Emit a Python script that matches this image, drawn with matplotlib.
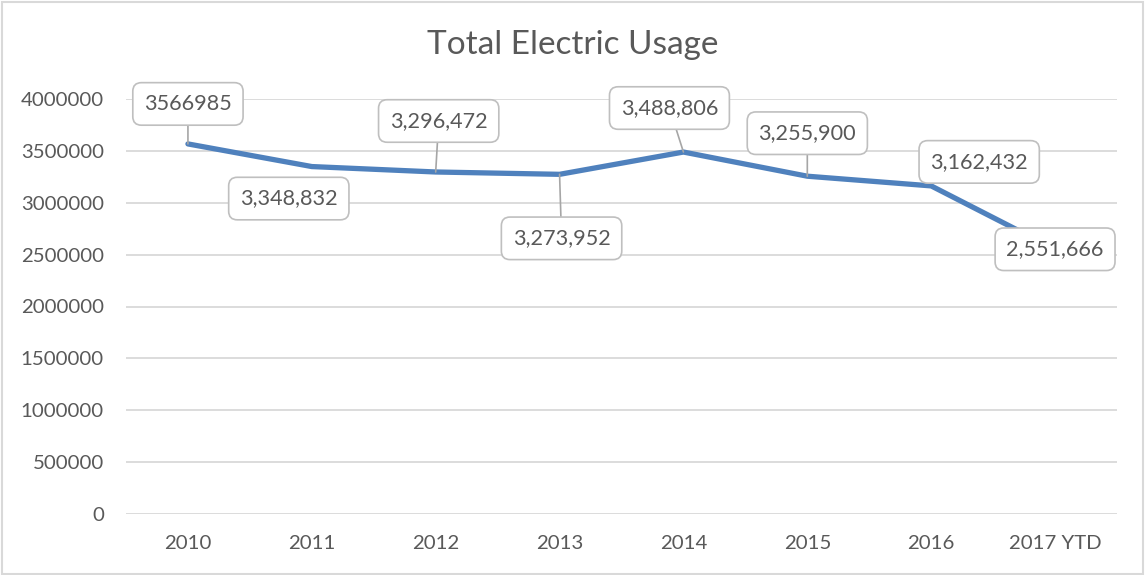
import matplotlib
matplotlib.use('Agg')
import matplotlib.pyplot as plt
from matplotlib.patches import Rectangle

plt.rcParams['font.family'] = ['Lato', 'DejaVu Sans']

# annual electric usage
years = ['2010', '2011', '2012', '2013', '2014', '2015', '2016', '2017 YTD']
usage = [3566985, 3348832, 3296472, 3273952, 3488806, 3255900, 3162432, 2551666]
# first label was left unformatted in the source sheet
labels = ['3566985', '3,348,832', '3,296,472', '3,273,952',
          '3,488,806', '3,255,900', '3,162,432', '2,551,666']

# label placement: offset of box centre from the point (pixels), and leader line on/off
offsets = [(0, 40), (-23, -32), (3, 51), (2, -64), (-14, 44), (0, 43), (48, 24), (0, 0)]
leaders = [True, False, True, True, True, True, False, False]

TEXT = '#595959'
GRID = '#d9d9d9'
BLUE = '#4f81bd'

fig = plt.figure(figsize=(11.46, 5.75), dpi=100)
ax = fig.add_axes([126 / 1146, 1 - 514 / 575, 991 / 1146, 415 / 575])

x = range(len(years))
ax.plot(x, usage, color=BLUE, lw=3.8, solid_capstyle='round', solid_joinstyle='round', zorder=3)

for i, (v, lab) in enumerate(zip(usage, labels)):
    dx, dy = offsets[i]
    arrow = dict(arrowstyle='-', color='#a6a6a6', lw=1.2, shrinkA=0, shrinkB=0) if leaders[i] else None
    ax.annotate(lab, (i, v), xytext=(dx, dy), textcoords='offset pixels',
                ha='center', va='center', fontsize=15.6, color=TEXT, zorder=5,
                bbox=dict(boxstyle='round,pad=0.52,rounding_size=0.4', fc='white', ec='#bfbfbf', lw=1.2),
                arrowprops=arrow)

ax.set_xlim(-0.5, len(years) - 0.5)
ax.set_ylim(0, 4000000)
ax.set_yticks(range(0, 4000001, 500000))
ax.set_yticklabels([str(t) for t in range(0, 4000001, 500000)])
ax.set_xticks(list(x))
ax.set_xticklabels(years)
ax.grid(axis='y', color=GRID, lw=1.3)
ax.set_axisbelow(True)
for s in ax.spines.values():
    s.set_visible(False)
ax.tick_params(length=0, labelsize=14.7, labelcolor=TEXT)
ax.tick_params(axis='y', pad=16)
ax.tick_params(axis='x', pad=15)

fig.text(0.5, 1 - 45 / 575, 'Total Electric Usage', ha='center', va='center', fontsize=24, color=TEXT)

# thin frame round the chart
fig.patches.append(Rectangle((1.5 / 1146, 1.5 / 575), 1141 / 1146, 572 / 575,
                             transform=fig.transFigure, fill=False, ec=GRID, lw=1.5))

fig.savefig('out.png', dpi=100)
